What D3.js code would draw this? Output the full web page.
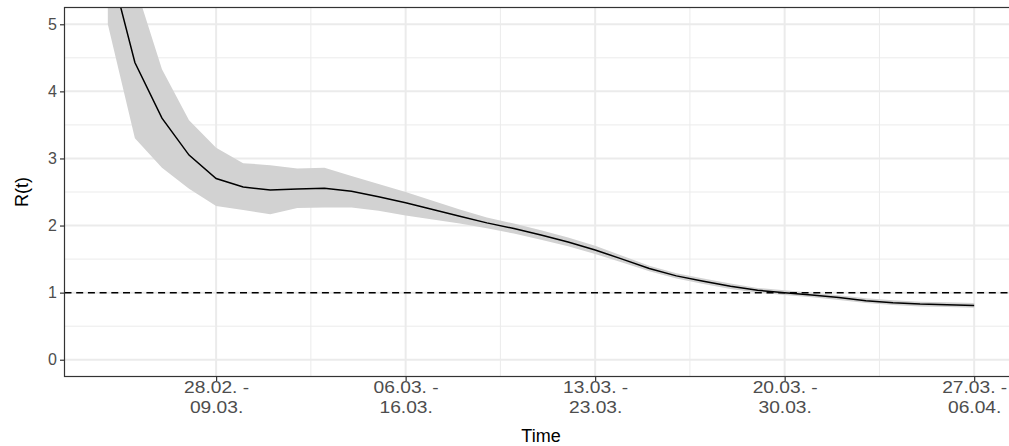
<!DOCTYPE html>
<html>
<head>
<meta charset="utf-8">
<title>R(t)</title>
<script src="https://d3js.org/d3.v7.min.js"></script>
<style>
  body { margin: 0; background: #fff; }
  text { font-family: "Liberation Sans", Arial, Helvetica, sans-serif; }
</style>
</head>
<body>
<script>
// day index 0 = 24.02., one point per day up to 27.03. (index 32)
var meanR = [6.0, 4.43, 3.60, 3.05, 2.70, 2.575, 2.53, 2.545, 2.556, 2.51,
             2.43, 2.34, 2.24, 2.14, 2.04, 1.955, 1.86, 1.755, 1.635, 1.50,
             1.36, 1.25, 1.17, 1.095, 1.035, 1.0, 0.966, 0.926, 0.88, 0.85,
             0.83, 0.82, 0.81];
var upperR = [7.2, 5.6, 4.33, 3.57, 3.16, 2.93, 2.90, 2.85, 2.86, 2.74,
              2.62, 2.50, 2.37, 2.24, 2.12, 2.03, 1.93, 1.82, 1.70, 1.55,
              1.40, 1.29, 1.21, 1.135, 1.07, 1.035, 1.0, 0.96, 0.915, 0.885,
              0.865, 0.855, 0.845];
var lowerR = [5.0, 3.30, 2.86, 2.55, 2.29, 2.23, 2.17, 2.26, 2.27, 2.27,
              2.22, 2.15, 2.09, 2.03, 1.96, 1.88, 1.79, 1.69, 1.575, 1.45,
              1.32, 1.21, 1.13, 1.055, 1.0, 0.965, 0.93, 0.89, 0.845, 0.815,
              0.795, 0.785, 0.775];

var tickDays = [4, 11, 18, 25, 32];
var tickLabels = [["28.02. -", "09.03."], ["06.03. -", "16.03."], ["13.03. -", "23.03."],
                  ["20.03. -", "30.03."], ["27.03. -", "06.04."]];
var minorDays = [7.5, 14.5, 21.5, 28.5];
var yTicks = [0, 1, 2, 3, 4, 5];
var yMinor = [0.5, 1.5, 2.5, 3.5, 4.5];

var W = 1009, H = 446;
var pLeft = 64.5, pRight = 1017.5, pTop = 7.5, pBottom = 376.5;

var svg = d3.select("body").append("svg")
    .attr("width", W).attr("height", H);

var x = d3.scaleLinear().domain([-1.6, 33.6]).range([pLeft, pRight]);
var y = d3.scaleLinear().domain([-0.25, 5.25]).range([pBottom, pTop]);

svg.append("clipPath").attr("id", "panel")
  .append("rect").attr("x", pLeft).attr("y", pTop)
  .attr("width", pRight - pLeft).attr("height", pBottom - pTop);

var grid = svg.append("g");
grid.selectAll(".ymin").data(yMinor).join("line")
    .attr("x1", pLeft).attr("x2", pRight)
    .attr("y1", d => y(d)).attr("y2", d => y(d))
    .attr("stroke", "#EBEBEB").attr("stroke-width", 1);
grid.selectAll(".xmin").data(minorDays).join("line")
    .attr("x1", d => x(d)).attr("x2", d => x(d))
    .attr("y1", pTop).attr("y2", pBottom)
    .attr("stroke", "#EBEBEB").attr("stroke-width", 1);
grid.selectAll(".ymaj").data(yTicks).join("line")
    .attr("x1", pLeft).attr("x2", pRight)
    .attr("y1", d => y(d)).attr("y2", d => y(d))
    .attr("stroke", "#EBEBEB").attr("stroke-width", 2);
grid.selectAll(".xmaj").data(tickDays).join("line")
    .attr("x1", d => x(d)).attr("x2", d => x(d))
    .attr("y1", pTop).attr("y2", pBottom)
    .attr("stroke", "#EBEBEB").attr("stroke-width", 2);

var days = d3.range(meanR.length);
var plot = svg.append("g").attr("clip-path", "url(#panel)");

plot.append("path")
    .datum(days)
    .attr("fill", "#D2D2D2")
    .attr("d", d3.area().x(d => x(d)).y0(d => y(lowerR[d])).y1(d => y(upperR[d])));

plot.append("line")
    .attr("x1", pLeft).attr("x2", pRight)
    .attr("y1", y(1)).attr("y2", y(1))
    .attr("stroke", "#000").attr("stroke-width", 1.5)
    .attr("stroke-dasharray", "7,4.7");

plot.append("path")
    .datum(days)
    .attr("fill", "none").attr("stroke", "#000").attr("stroke-width", 1.5)
    .attr("d", d3.line().x(d => x(d)).y(d => y(meanR[d])));

svg.append("rect")
    .attr("x", pLeft).attr("y", pTop)
    .attr("width", pRight - pLeft).attr("height", pBottom - pTop)
    .attr("fill", "none").attr("stroke", "#333").attr("stroke-width", 1.2);

var yAxis = svg.append("g")
    .attr("transform", "translate(" + pLeft + ",0)")
    .call(d3.axisLeft(y).tickValues(yTicks).tickSize(4.5).tickPadding(3).tickFormat(d3.format("d")));
yAxis.select(".domain").remove();
yAxis.selectAll(".tick line").attr("stroke", "#333").attr("stroke-width", 1.2);
yAxis.selectAll(".tick text")
    .attr("fill", "#4D4D4D").style("font-size", "16px")
    .style("font-family", "'Liberation Sans', Arial, sans-serif");

var xAxis = svg.append("g")
    .attr("transform", "translate(0," + pBottom + ")")
    .call(d3.axisBottom(x).tickValues(tickDays).tickSize(4.5).tickPadding(1).tickFormat(""));
xAxis.select(".domain").remove();
xAxis.selectAll(".tick line").attr("stroke", "#333").attr("stroke-width", 1.2);
// the labels in the reference are drawn a little wider than plain 16px text
xAxis.selectAll(".tick text")
    .attr("fill", "#4D4D4D").style("font-size", "16px")
    .style("font-family", "'Liberation Sans', Arial, sans-serif")
    .attr("transform", "scale(1.2,1)")
    .each(function(d, i) {
      var t = d3.select(this);
      t.append("tspan").attr("x", 0).attr("dy", "0.71em").text(tickLabels[i][0]);
      t.append("tspan").attr("x", 0).attr("dy", "1.25em").text(tickLabels[i][1]);
    });

svg.append("text")
    .attr("x", (pLeft + pRight) / 2).attr("y", 442)
    .attr("text-anchor", "middle")
    .style("font-size", "18px")
    .text("Time");

svg.append("text")
    .attr("transform", "translate(28," + (pTop + pBottom) / 2 + ") rotate(-90)")
    .attr("text-anchor", "middle")
    .style("font-size", "18px")
    .text("R(t)");
</script>
</body>
</html>
